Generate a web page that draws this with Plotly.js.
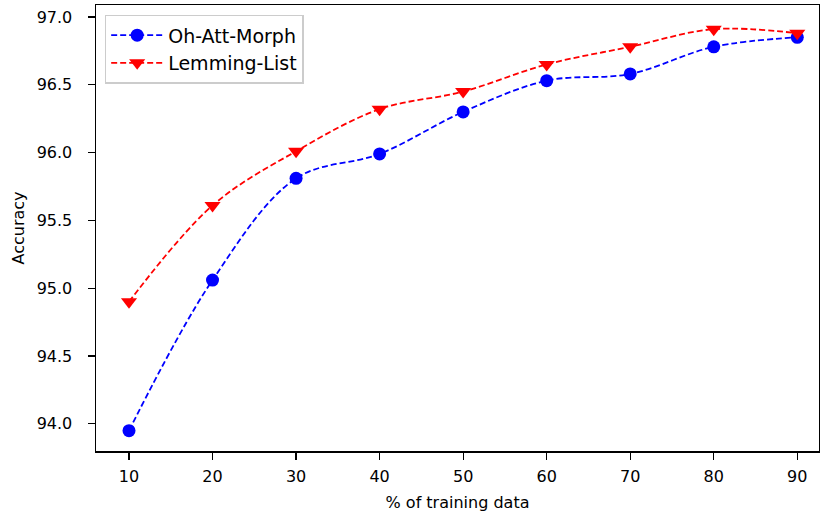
<!DOCTYPE html>
<html><head><meta charset="utf-8">
<script src="https://cdn.plot.ly/plotly-3.0.1.min.js"></script>
<style>html,body{margin:0;padding:0;background:#fff}#chart{width:820px;height:515px}</style>
</head><body><div id="chart"></div>
<script>
const trainingPct = [10, 20, 30, 40, 50, 60, 70, 80, 90];
const ohAttMorph = [93.95, 95.06, 95.81, 95.99, 96.30, 96.53, 96.58, 96.78, 96.85];
const lemmingList = [94.90, 95.61, 96.01, 96.32, 96.45, 96.65, 96.78, 96.91, 96.88];
const yTicks = [94.0, 94.5, 95.0, 95.5, 96.0, 96.5, 97.0];
const yTickLabels = ["94.0", "94.5", "95.0", "95.5", "96.0", "96.5", "97.0"];

const font = "DejaVu Sans, sans-serif";
const traces = [
  {x: trainingPct, y: ohAttMorph, name: "Oh-Att-Morph", mode: "lines+markers",
   line: {color: "#0000ff", dash: "6px,3px", width: 1.8, shape: "spline", smoothing: 1},
   marker: {symbol: "circle", size: 13, color: "#0000ff"}},
  {x: trainingPct, y: lemmingList, name: "Lemming-List", mode: "lines+markers",
   line: {color: "#ff0000", dash: "6px,3px", width: 1.8, shape: "spline", smoothing: 1},
   marker: {symbol: "triangle-down", size: 14, color: "#ff0000"}}
];
const layout = {
  width: 820, height: 515,
  margin: {l: 96, r: 1, t: 5, b: 64},
  paper_bgcolor: "#fff", plot_bgcolor: "#fff",
  font: {family: font, size: 16, color: "#000"},
  showlegend: true,
  legend: {x: 0.012, y: 0.978, xanchor: "left", yanchor: "top",
           bgcolor: "rgba(255,255,255,0.8)", bordercolor: "#cccccc", borderwidth: 1.5,
           itemwidth: 52, font: {family: font, size: 19}, tracegroupgap: 4},
  xaxis: {range: [6.05, 92.6], tickvals: trainingPct, ticks: "outside", ticklen: 7,
          tickwidth: 1.2, tickcolor: "#000", showline: true, linecolor: "#000",
          linewidth: 1.5, mirror: true, showgrid: false, zeroline: false,
          ticklabelstandoff: 3,
          title: {text: "% of training data", font: {family: font, size: 16}, standoff: 12}},
  yaxis: {range: [93.80, 97.088], tickvals: yTicks, ticktext: yTickLabels, ticks: "outside",
          ticklen: 7, tickwidth: 1.2, tickcolor: "#000", showline: true, linecolor: "#000",
          linewidth: 1.5, mirror: true, showgrid: false, zeroline: false,
          ticklabelstandoff: 12,
          title: {text: "Accuracy", font: {family: font, size: 16}, standoff: 8}}
};
Plotly.newPlot("chart", traces, layout, {displayModeBar: false, staticPlot: true});
</script></body></html>
